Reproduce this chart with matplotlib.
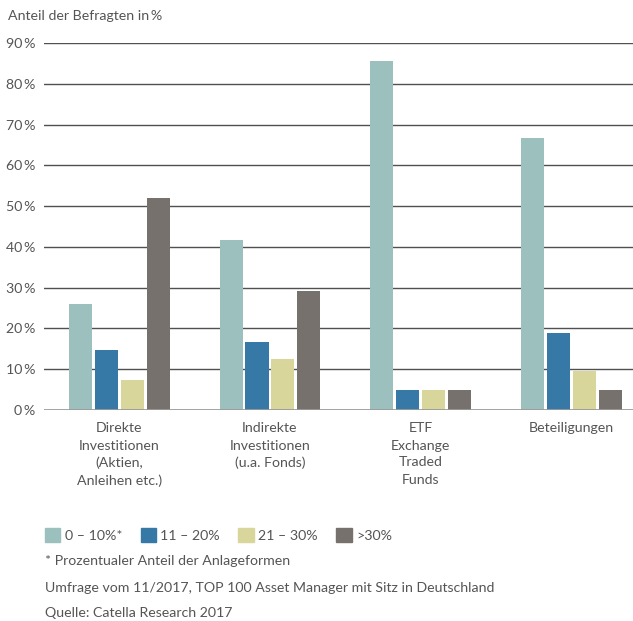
import matplotlib.pyplot as plt
import matplotlib.patches as mpatches
import numpy as np

plt.rcParams['font.family'] = ['Lato', 'DejaVu Sans']

categories = ['Direkte\nInvestitionen\n(Aktien,\nAnleihen etc.)',
              'Indirekte\nInvestitionen\n(u.a. Fonds)',
              'ETF\nExchange\nTraded\nFunds',
              'Beteiligungen']
series_names = ['0 – 10%*', '11 – 20%', '21 – 30%', '>30%']
share_0_10 = [25.9, 41.7, 85.7, 66.7]
share_11_20 = [14.8, 16.7, 4.8, 19.0]
share_21_30 = [7.4, 12.5, 4.8, 9.5]
share_over_30 = [51.9, 29.2, 4.8, 4.8]
y_ticks = [0, 10, 20, 30, 40, 50, 60, 70, 80, 90]

colors = ['#9bc0bd', '#3678a6', '#d9d69c', '#76716c']
text_color = '#555555'
fs = 10.2

W, H = 633, 621
fig = plt.figure(figsize=(W / 100, H / 100), dpi=100)
ax = fig.add_axes([44 / W, (H - 410) / H, (W - 44) / W, (410 - 43) / H])

# gridlines first, bars on top
for t in y_ticks[1:]:
    ax.axhline(t, color='#505050', lw=1.0, zorder=0)
ax.axhline(0, color='#9a9a9a', lw=2.0, zorder=3)

x = np.arange(len(categories))
pitch = 0.172
width = 0.153
all_series = [share_0_10, share_11_20, share_21_30, share_over_30]
for i, vals in enumerate(all_series):
    ax.bar(x + (i - 1.5) * pitch, vals, width, color=colors[i], zorder=2)

ax.set_xlim(-0.5, 3.41)
ax.set_ylim(0, 90)
for s in ax.spines.values():
    s.set_visible(False)
ax.set_yticks(y_ticks)
ax.set_yticklabels([f'{t}\u2009%' for t in y_ticks])
ax.tick_params(axis='y', length=0, pad=6, labelsize=fs, labelcolor=text_color)
ax.set_xticks(x)
ax.set_xticklabels(categories, linespacing=1.5)
ax.tick_params(axis='x', length=0, pad=9, labelsize=fs, labelcolor=text_color)
for lbl in ax.get_xticklabels():
    lbl.set_verticalalignment('top')

fig.text(8 / W, 1 - 16 / H, 'Anteil der Befragten in\u2009%', fontsize=fs,
         color=text_color, va='center', ha='left')

handles = [mpatches.Patch(color=c, label=n) for c, n in zip(colors, series_names)]
fig.legend(handles=handles, loc='center left', bbox_to_anchor=(32 / W, 1 - 535 / H),
           ncol=4, frameon=False, fontsize=fs, handlelength=1.1, handleheight=1.1,
           handletextpad=0.3, columnspacing=1.3, labelcolor=text_color)

notes = ['* Prozentualer Anteil der Anlageformen',
         'Umfrage vom 11/2017, TOP 100 Asset Manager mit Sitz in Deutschland',
         'Quelle: Catella Research 2017']
for note, yp in zip(notes, [561, 588, 613]):
    fig.text(45 / W, 1 - yp / H, note, fontsize=fs, color=text_color, va='center', ha='left')

fig.savefig('out.png', dpi=100)
